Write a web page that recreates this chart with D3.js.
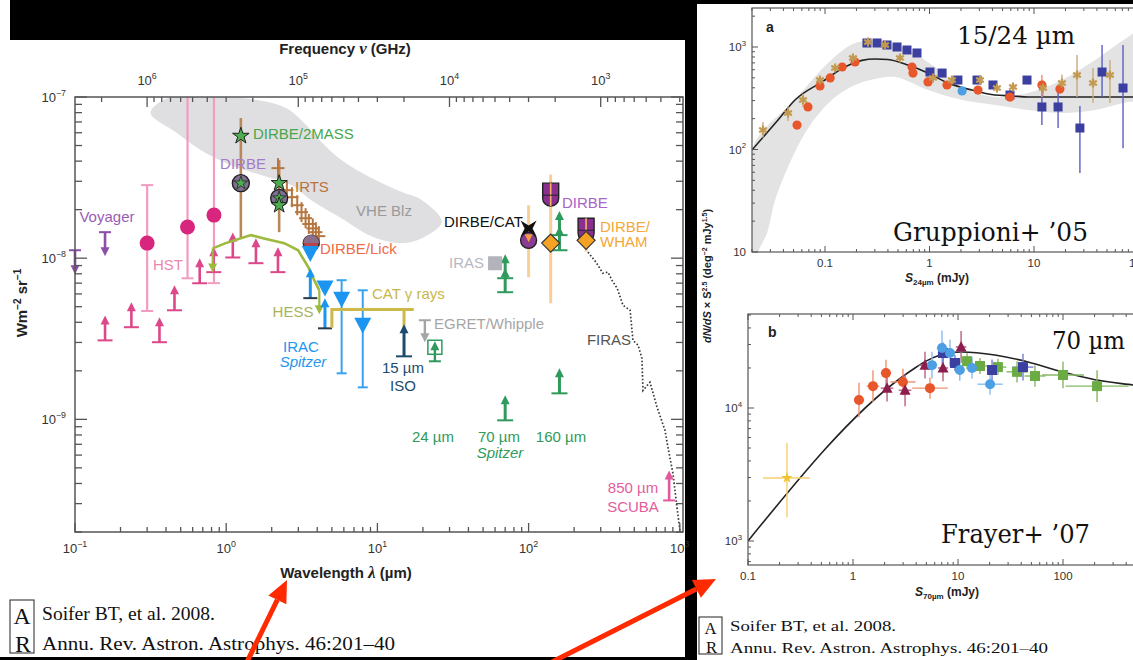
<!DOCTYPE html>
<html><head><meta charset="utf-8">
<script src="https://cdn.jsdelivr.net/npm/d3@7/dist/d3.min.js"></script>
<style>
html,body{margin:0;padding:0;background:#000;}
svg{display:block;font-family:"Liberation Sans",Arial,sans-serif;}
</style></head><body>
<svg id="chart" width="1133" height="660"></svg>
<script>
// ================= DATA: left panel (λ in µm, νIν in W m^-2 sr^-1) =================
const C_UM_GHZ = 299792.458;
const lamTickExps = [-1, 0, 1, 2, 3];
const freqTickExps = [6, 5, 4, 3];
const valTickExps = [-7, -8, -9];

const vheBandLam = [0.316,0.397,0.678,1.46,2.49,3.38,4.26,5.78,9.14,14.5,19.7,26.7,19.7,14.5,9.14,5.78,3.65,2.69,1.70,1.07,0.678,0.463];
const vheBandVal = [7.96e-8,9.72e-8,1.0e-7,9.72e-8,8.55e-8,6.70e-8,5.25e-8,4.06e-8,3.14e-8,2.57e-8,2.29e-8,1.68e-8,1.33e-8,1.24e-8,1.37e-8,1.77e-8,2.29e-8,2.84e-8,3.28e-8,3.78e-8,4.69e-8,6.06e-8];

const hstLam = [0.30, 0.555, 0.83];
const hstVal = [1.24e-8, 1.56e-8, 1.85e-8];
const hstLo  = [4.7e-9, 7.5e-9, 7.0e-9];
const hstHi  = [2.84e-8, 1.5e-7, 1.5e-7];

const optLimLam = [0.158,0.236,0.362,0.455,0.668,0.827,1.106,1.573,2.20];
const optLimVal = [3.09e-9,3.73e-9,3.01e-9,4.75e-9,6.99e-9,8.19e-9,1.01e-8,9.31e-9,8.19e-9];

const voyagerLam = [0.1, 0.158];
const voyagerVal = [1.12e-8, 1.45e-8];

const hessLam = [0.814,0.994,1.25,1.46,1.75,2.42,2.99,3.49,3.82,4.13];
const hessVal = [1.15e-8,1.24e-8,1.33e-8,1.39e-8,1.33e-8,1.24e-8,1.12e-8,8.79e-9,7.30e-9,6.32e-9];

const nirErrLam = [1.25, 2.24];
const nirErrLo  = [1.35e-8, 1.45e-8];
const nirErrHi  = [7.41e-8, 4.06e-8];
const dirbe2massLam = [1.25];
const dirbe2massVal = [5.73e-8];
const dirbeCircLam = [1.25, 2.24];
const dirbeCircVal = [2.92e-8, 2.36e-8];
const dirbeStarLam = [2.24, 2.24];
const dirbeStarVal = [2.92e-8, 2.13e-8];

const irtsLam = [2.20,2.52,2.72,2.95,3.15,3.35,3.52,3.74,3.92,4.10];
const irtsVal = [3.62e-8,2.64e-8,2.39e-8,2.13e-8,1.93e-8,1.77e-8,1.63e-8,1.53e-8,1.45e-8,1.37e-8];

const lickLam = [3.65];
const lickVal = [1.24e-8];

const iracLam = [3.6, 4.5, 5.8, 8.0];
const iracVal = [1.07e-8, 6.52e-9, 5.56e-9, 3.83e-9];
const iracLo  = [null, null, 1.93e-9, 1.58e-9];
const iracHi  = [null, null, 7.30e-9, 6.32e-9];
const iracLimLam = [3.6, 4.5];
const iracLimVal = [5.65e-9, 3.67e-9];

const catLam = [5.0, 5.0, 17.4];
const catVal = [3.7e-9, 4.8e-9, 4.8e-9];
const catLegLam = [15, 15];
const catLegVal = [4.8e-9, 3.7e-9];

const isoLam = [15];
const isoVal = [2.46e-9];
const egretLam = [20.6];
const egretVal = [4.12e-9];
const mips24Lam = [24];
const mips24Val = [2.8e-9];
const spitzerLimLam = [70, 160];
const spitzerLimVal = [9.86e-10, 1.45e-9];
const stackLimLam = [70, 70, 160, 160];
const stackLimVal = [6.15e-9, 7.51e-9, 1.12e-8, 1.39e-8];
const irasLam = [60];
const irasVal = [9.3e-9];

const firErrLam = [100, 140, 240];
const firErrLo  = [7.62e-9, 5.25e-9, 1.1e-8];
const firErrHi  = [2.13e-8, 3.3e-8, 1.75e-8];
const dirbeCatLam = [100];
const dirbeCatVal = [1.29e-8];
const catCrossVal = [1.53e-8];
const dirbeShieldLam = [140, 240];
const dirbeShieldVal = [2.46e-8, 1.49e-8];
const whamLam = [140, 240];
const whamVal = [1.24e-8, 1.29e-8];

const firasLam = [247,279,310,335,356,385,421,469,490,530,562,571,635,707,798,835,901,958,1002,1040];
const firasVal = [1.09e-8,9.44e-9,8.07e-9,8.19e-9,7.30e-9,6.52e-9,5.10e-9,4.75e-9,3.09e-9,2.88e-9,2.39e-9,1.51e-9,1.70e-9,1.19e-9,8.55e-10,6.70e-10,4.62e-10,2.84e-10,2.05e-10,1.5e-10];
const scubaLam = [850];
const scubaVal = [3.14e-10];

const annText = ['DIRBE/2MASS','DIRBE','IRTS','Voyager','HST','VHE Blz','DIRBE/Lick','DIRBE/CAT','DIRBE','DIRBE/','WHAM','IRAS','CAT γ rays','EGRET/Whipple','HESS','IRAC','Spitzer','15 µm','ISO','FIRAS','24 µm','70 µm','160 µm','Spitzer','850 µm','SCUBA'];
const annLam  = [1.503,1.291,2.85,0.1627,0.4122,11.06,4.173,27.57,166.3,296.7,296.7,50.70,9.21,23.67,2.765,3.124,3.220,14.77,14.77,340.1,23.32,63.72,163.8,64.7,490.2,490.2];
const annVal  = [5.48e-8,3.57e-8,2.57e-8,1.67e-8,8.42e-9,1.82e-8,1.059e-8,1.558e-8,2.045e-8,1.45e-8,1.17e-8,8.67e-9,5.56e-9,3.62e-9,4.30e-9,2.61e-9,2.10e-9,1.93e-9,1.49e-9,2.88e-9,7.20e-10,7.20e-10,7.20e-10,5.72e-10,3.47e-10,2.65e-10];

// ================= DATA: panel a (S24 in mJy, dN/dS×S^2.5) =================
const aTickLabels = ['0.1','1','10','100'];
const aTickVals = [0.1, 1, 10, 100];
const aBandS = [0.0205,0.0516,0.107,0.194,0.351,0.623,1.13,2.05,4.23,8.77,18.5,38.4,79.4,129,129,79.4,38.4,18.5,8.77,4.23,2.05,0.967,0.468,0.270,0.194,0.133,0.0935,0.0644,0.0443,0.0333,0.0279,0.0229,0.0215];
const aBandN = [106,304,698,1094,1119,935,638,407,325,356,476,747,1252,1641,304,291,243,227,243,272,304,380,509,476,425,340,243,145,67.5,32.1,15.3,10,7];
const aModelS = [0.020,0.0355,0.0516,0.0935,0.155,0.226,0.30,0.40,0.623,0.967,1.50,2.55,4.23,6.16,8.77,88.6,200];
const aModelN = [98.9,194,304,456,638,740,765,755,667,557,445,380,340,333,325,325,325];
const aRedS = [0.054,0.0687,0.0895,0.112,0.146,0.194,0.68,0.695,0.968,1.47,2.91,5.89,11.9,17.7];
const aRedN = [173,260,417,499,638,714,638,557,456,426,380,325,426,389];
const aRedLo = [null,null,null,null,null,null,null,null,null,null,null,null,325,null];
const aRedHi = [null,null,null,null,null,null,null,null,null,null,null,null,533,null];
const aBlueS = [0.252,0.315,0.392,0.489,0.609,0.759,1.01,1.32,1.87,2.85,4.05,5.89,8.57,11.9,17.0,27.5,44.8,71.1];
const aBlueN = [1094,1094,1046,1000,935,874,570,557,476,476,426,340,476,260,260,162,570,398];
const aBlueLo = [null,null,null,null,null,null,null,null,null,null,null,300,null,173,162,59,325,103];
const aBlueHi = [null,null,null,null,null,null,null,null,null,null,null,380,null,445,426,265,1046,1046];
const aTanS = [0.0255,0.0443,0.0616,0.0895,0.125,0.185,0.258,0.375,0.522,1.08,1.64,3.04,4.42,6.30,12.2,18.5,25.8,36.7,53.3];
const aTanN = [155,227,304,476,624,782,1119,1046,782,499,476,476,398,407,398,445,533,445,533];
const aTanLo = [130,190,260,null,null,null,null,null,null,null,null,null,null,null,330,360,325,284,284];
const aTanHi = [185,265,350,null,null,null,null,null,null,null,null,null,null,null,470,540,835,624,747];
const aCyanS = [2.05];
const aCyanN = [373];

// ================= DATA: panel b (S70 in mJy, dN/dS×S^2.5) =================
const bTickLabels = ['0.1','1','10','100'];
const bTickVals = [0.1, 1, 10, 100];
const bModelS = [0.1,2.93,3.89,5.18,8.03,10.9,22.5,46.4,97.7,202,464,1000];
const bModelN = [1000,17100,20000,22900,25900,26400,25000,22200,18700,16300,14900,13800];
const bYelS = [0.235]; const bYelN = [2980];
const bYelSLo = [0.139]; const bYelSHi = [0.389]; const bYelNLo = [1510]; const bYelNHi = [5450];
const bRedS = [1.14,1.55,2.06,2.99,5.41];
const bRedN = [11500,14600,18300,15700,14100];
const bRedEN = [0.13,0.12,0.10,0.10,0.08];
const bRedES = [0.05,0.06,0.05,0.12,0.17];
const bTriS = [2.11,3.13,4.85,7.20,10.7];
const bTriN = [14100,13600,21000,20000,28800];
const bTriEN = [0.10,0.12,0.10,0.10,0.12];
const bTriES = [0.06,0.06,0.06,0.05,0.05];
const bCircS = [5.65,7.04,8.39,10.4,13.6,20.2];
const bCircN = [21000,28300,25900,19300,20000,15100];
const bCircEN = [0.10,0.13,0.10,0.08,0.08,0.08];
const bCircES = [0.05,0.05,0.05,0.05,0.05,0.12];
const bSqS = [7.20,9.36,21.1,41.6];
const bSqN = [25900,21800,19300,20300];
const bSqEN = [0.08,0.06,0.08,0.10];
const bSqES = [0.05,0.05,0.05,0.10];
const bGrnS = [12.2,16.2,24.0,36.5,54.1,100,211];
const bGrnN = [22500,20700,20300,18700,17400,17700,14600];
const bGrnEN = [0.06,0.06,0.06,0.08,0.08,0.10,0.12];
const bGrnES = [0.05,0.08,0.08,0.10,0.10,0.20,0.30];

// ================= RENDER =================
const svg = d3.select('#chart');
const defs = svg.append('defs');
const sup = e => (e < 0 ? '\u2212' + (-e) : String(e));
function pow10(g, px, py, e, anchor, size, color) {
  const t = g.append('text').attr('x', px).attr('y', py).attr('text-anchor', anchor)
    .attr('font-size', size).attr('fill', color);
  t.append('tspan').text('10');
  t.append('tspan').attr('dy', -size * 0.45).attr('font-size', size * 0.68).text(sup(e));
  return t;
}
function line(g, x1, y1, x2, y2, c, w) {
  return g.append('line').attr('x1', x1).attr('y1', y1).attr('x2', x2).attr('y2', y2)
    .attr('stroke', c).attr('stroke-width', w);
}
function upArrow(g, px, pyb, len, c, w, capW, capC) {
  line(g, px, pyb, px, pyb - len + 7, c, w);
  g.append('path').attr('d', `M${px - 4.5},${pyb - len + 9}L${px},${pyb - len}L${px + 4.5},${pyb - len + 9}Z`).attr('fill', c);
  if (capW) line(g, px - capW / 2, pyb, px + capW / 2, pyb, capC || c, 2);
}
function downArrow(g, px, pyc, len, c, w, capW) {
  line(g, px, pyc, px, pyc + len - 7, c, w);
  g.append('path').attr('d', `M${px - 4.5},${pyc + len - 9}L${px},${pyc + len}L${px + 4.5},${pyc + len - 9}Z`).attr('fill', c);
  if (capW) line(g, px - capW / 2, pyc, px + capW / 2, pyc, c, 2);
}
function logTicks(a, b) {
  const out = [];
  for (let e = Math.floor(Math.log10(Math.min(a, b))); e <= Math.ceil(Math.log10(Math.max(a, b))); e++)
    for (let k = 1; k < 10; k++) { const v = k * Math.pow(10, e); if (v >= Math.min(a, b) * 0.999 && v <= Math.max(a, b) * 1.001) out.push(v); }
  return out;
}
const isMajor = v => Math.abs(Math.log10(v) - Math.round(Math.log10(v))) < 1e-6;

// backgrounds
svg.append('rect').attr('width', 1133).attr('height', 660).attr('fill', '#000');
svg.append('rect').attr('x', 0).attr('y', 0).attr('width', 685).attr('height', 657).attr('fill', '#fff');
svg.append('rect').attr('x', 10).attr('y', 0).attr('width', 687).attr('height', 40).attr('fill', '#000');
svg.append('rect').attr('x', 697).attr('y', 4).attr('width', 436).attr('height', 656).attr('fill', '#fff');

// ---------- LEFT PANEL ----------
const X0 = 75, X1 = 683, Y0 = 97, Y1 = 532;
const x = d3.scaleLog().domain([0.1, 1050]).range([X0, X1]);
const y = d3.scaleLog().domain([2e-10, 1e-7]).range([Y1, Y0]);
const xf = d3.scaleLog().domain([C_UM_GHZ / 0.1, C_UM_GHZ / 1050]).range([X0, X1]);
defs.append('clipPath').attr('id', 'clipL').append('rect').attr('x', X0).attr('y', Y0).attr('width', X1 - X0).attr('height', Y1 - Y0);
const L = svg.append('g');
const g = L.append('g').attr('clip-path', 'url(#clipL)');

// VHE blazar band
g.append('path').datum(d3.zip(vheBandLam, vheBandVal))
  .attr('d', d3.line().x(d => x(d[0])).y(d => y(d[1])).curve(d3.curveCatmullRomClosed.alpha(0.5)))
  .attr('fill', '#dfdfe1');

// FIRAS
g.append('path').datum(d3.zip(firasLam, firasVal))
  .attr('d', d3.line().x(d => x(d[0])).y(d => y(d[1])))
  .attr('fill', 'none').attr('stroke', '#3a3a3a').attr('stroke-width', 1.7).attr('stroke-dasharray', '1.6,2');

// FIR DIRBE error bars (peach)
firErrLam.forEach((l, i) => line(g, x(l), y(firErrLo[i]), x(l), y(firErrHi[i]), '#f9cf98', 3));

// HST error bars
hstLam.forEach((l, i) => {
  line(g, x(l), y(hstLo[i]), x(l), y(hstHi[i]), '#f29cc1', 2.2);
  line(g, x(l) - 6, y(hstLo[i]), x(l) + 6, y(hstLo[i]), '#f29cc1', 2);
  line(g, x(l) - 6, y(hstHi[i]), x(l) + 6, y(hstHi[i]), '#f29cc1', 2);
});
// optical lower limits
optLimLam.forEach((l, i) => upArrow(g, x(l), y(optLimVal[i]), 25, '#dc4889', 2.6, 15));

// HESS model curve
g.append('path').datum(d3.zip(hessLam, hessVal))
  .attr('d', d3.line().x(d => x(d[0])).y(d => y(d[1])))
  .attr('fill', 'none').attr('stroke', '#9dba3e').attr('stroke-width', 2.6);
downArrow(g, x(hessLam[0]), y(hessVal[0]), 24, '#9dba3e', 2.2, 0);
downArrow(g, x(hessLam[hessLam.length - 1]), y(hessVal[hessVal.length - 1]), 24, '#9dba3e', 2.2, 0);

// HST circles
hstLam.forEach((l, i) => g.append('circle').attr('cx', x(l)).attr('cy', y(hstVal[i])).attr('r', 7.5).attr('fill', '#d8267f'));

// NIR error bars (brown)
nirErrLam.forEach((l, i) => line(g, x(l), y(nirErrLo[i]), x(l), y(nirErrHi[i]), '#b9875a', 2.6));

// IRTS crosses
irtsLam.forEach((l, i) => {
  const cx = x(l), cy = y(irtsVal[i]);
  line(g, cx - 6.5, cy, cx + 6.5, cy, '#b5763f', 2);
  line(g, cx, cy - 10, cx, cy + 10, '#b5763f', 2);
});

const starPath = s => d3.symbol().type(d3.symbolStar).size(s)();
// DIRBE circles with stars
dirbeCircLam.forEach((l, i) => {
  g.append('circle').attr('cx', x(l)).attr('cy', y(dirbeCircVal[i])).attr('r', 8.5).attr('fill', '#7f6f90').attr('stroke', '#222').attr('stroke-width', 1.4);
  g.append('path').attr('d', starPath(55)).attr('transform', `translate(${x(l)},${y(dirbeCircVal[i])})`).attr('fill', '#4cae50').attr('stroke', '#222').attr('stroke-width', 0.8);
});
dirbeStarLam.forEach((l, i) => g.append('path').attr('d', starPath(80)).attr('transform', `translate(${x(l)},${y(dirbeStarVal[i])})`).attr('fill', '#4cae50').attr('stroke', '#222').attr('stroke-width', 1));
dirbe2massLam.forEach((l, i) => g.append('path').attr('d', starPath(85)).attr('transform', `translate(${x(l)},${y(dirbe2massVal[i])})`).attr('fill', '#4cae50').attr('stroke', '#222').attr('stroke-width', 1));

// DIRBE/Lick
lickLam.forEach((l, i) => {
  g.append('circle').attr('cx', x(l)).attr('cy', y(lickVal[i])).attr('r', 8).attr('fill', '#b8444a').attr('stroke', '#333').attr('stroke-width', 1.4);
  g.append('path').attr('d', `M${x(l) - 8},${y(lickVal[i])}A8,8 0 0 1 ${x(l) + 8},${y(lickVal[i])}Z`).attr('fill', '#8c6e8a');
});

// IRAC
iracLimLam.forEach((l, i) => upArrow(g, x(l), y(iracLimVal[i]), 30, '#1b95ef', 3, 14, '#2a3a4a'));
iracLam.forEach((l, i) => {
  if (iracLo[i] !== null) {
    line(g, x(l), y(iracLo[i]), x(l), y(iracHi[i]), '#38a2f0', 2);
    line(g, x(l) - 5, y(iracLo[i]), x(l) + 5, y(iracLo[i]), '#38a2f0', 2);
    line(g, x(l) - 5, y(iracHi[i]), x(l) + 5, y(iracHi[i]), '#38a2f0', 2);
  }
  g.append('path').attr('d', 'M-8.5,-7.5L8.5,-7.5L0,8.5Z').attr('transform', `translate(${x(l)},${y(iracVal[i])})`).attr('fill', '#1b95ef');
});

// CAT gamma rays
g.append('path').datum(d3.zip(catLam, catVal)).attr('d', d3.line().x(d => x(d[0])).y(d => y(d[1])))
  .attr('fill', 'none').attr('stroke', '#cdb94a').attr('stroke-width', 3);
g.append('path').datum(d3.zip(catLegLam, catLegVal)).attr('d', d3.line().x(d => x(d[0])).y(d => y(d[1])))
  .attr('fill', 'none').attr('stroke', '#cdb94a').attr('stroke-width', 3);

// ISO 15 µm
isoLam.forEach((l, i) => upArrow(g, x(l), y(isoVal[i]), 32, '#1c4c6b', 3, 16));
// EGRET/Whipple
egretLam.forEach((l, i) => downArrow(g, x(l), y(egretVal[i]), 22, '#a4a4a4', 2.4, 12));
// 24 µm box
mips24Lam.forEach((l, i) => {
  const cx = x(l), cy = y(mips24Val[i]);
  g.append('rect').attr('x', cx - 7).attr('y', cy - 7).attr('width', 14).attr('height', 14).attr('fill', 'none').attr('stroke', '#2f9a5c').attr('stroke-width', 1.5);
  upArrow(g, cx, cy + 14, 20, '#2f9a5c', 2.4, 12);
});
// Spitzer lower limits
spitzerLimLam.forEach((l, i) => upArrow(g, x(l), y(spitzerLimVal[i]), 25, '#2f9a5c', 3, 16));
stackLimLam.forEach((l, i) => upArrow(g, x(l), y(stackLimVal[i]), 24, '#2f9a5c', 3, 16));
// IRAS
irasLam.forEach((l, i) => g.append('rect').attr('x', x(l) - 7).attr('y', y(irasVal[i]) - 7).attr('width', 14).attr('height', 14).attr('fill', '#b3b3bb'));

// DIRBE/CAT circle + cross
dirbeCatLam.forEach((l, i) => {
  const cx = x(l);
  g.append('circle').attr('cx', cx).attr('cy', y(dirbeCatVal[i])).attr('r', 8).attr('fill', '#8a3b93').attr('stroke', '#222').attr('stroke-width', 1.4);
  g.append('path').attr('d', 'M-4,-6L4,-6L0,2Z').attr('transform', `translate(${cx},${y(dirbeCatVal[i])})`).attr('fill', '#f0a040');
  g.append('path').attr('d', 'M-8,-8L0,-3L8,-8L4,0L8,8L0,3L-8,8L-4,0Z').attr('transform', `translate(${cx},${y(catCrossVal[i])})`).attr('fill', '#111');
});
// DIRBE shields
dirbeShieldLam.forEach((l, i) => {
  const cx = x(l), cy = y(dirbeShieldVal[i]);
  g.append('path').attr('d', `M${cx - 8},${cy - 12}L${cx + 8},${cy - 12}L${cx + 8},${cy + 3}A8,8 0 0 1 ${cx - 8},${cy + 3}Z`)
    .attr('fill', '#8b2f8f').attr('stroke', '#222').attr('stroke-width', 1.4);
  line(g, cx, cy - 12, cx, cy + 11, '#f3b46a', 1.6);
  line(g, cx - 8, cy, cx + 8, cy, '#222', 1);
});
// orange diamonds
whamLam.forEach((l, i) => g.append('path').attr('d', 'M0,-9L9,0L0,9L-9,0Z').attr('transform', `translate(${x(l)},${y(whamVal[i])})`)
  .attr('fill', '#f5a225').attr('stroke', '#333').attr('stroke-width', 1.2));
// SCUBA
scubaLam.forEach((l, i) => upArrow(g, x(l), y(scubaVal[i]), 30, '#e2589c', 2.6, 12));

// Voyager (drawn unclipped)
voyagerLam.forEach((l, i) => downArrow(L, x(l), y(voyagerVal[i]), 24, '#8d4ea9', 2.6, 12));

// annotations
const annColor = ['#47a64b','#a57bc9','#b7743d','#9a5cb4','#ec86b0','#9a9a9a','#f06a48','#111','#a864c8','#f5a83a','#f5a83a','#b8b8c2','#c8b74c','#a6a6a6','#a8b45c','#1e96ee','#1e96ee','#1d4c6c','#1d4c6c','#555','#2f9a5c','#2f9a5c','#2f9a5c','#2f9a5c','#e25d9d','#e25d9d'];
const annAnchor = ['start','middle','start','middle','middle','middle','start','start','start','start','start','end','start','start','middle','middle','middle','middle','middle','middle','middle','middle','middle','middle','middle','middle'];
const annItalic = [16, 23];
annText.forEach((t, i) => L.append('text').attr('x', x(annLam[i])).attr('y', y(annVal[i]))
  .attr('text-anchor', annAnchor[i]).attr('font-size', 15).attr('fill', annColor[i])
  .attr('font-style', annItalic.includes(i) ? 'italic' : 'normal').text(t));

// frame & ticks
L.append('rect').attr('x', X0).attr('y', Y0).attr('width', X1 - X0).attr('height', Y1 - Y0).attr('fill', 'none').attr('stroke', '#555').attr('stroke-width', 1.5);
x.ticks().forEach(v => { const m = isMajor(v); line(L, x(v), Y1, x(v), Y1 - (m ? 9 : 5), '#555', 1.3); });
xf.ticks().forEach(v => { const m = isMajor(v); line(L, xf(v), Y0, xf(v), Y0 + (m ? 10 : 5), '#555', 1.3); });
y.ticks().forEach(v => { const m = isMajor(v); line(L, X0, y(v), X0 + (m ? 12 : 7), y(v), '#555', 1.3); line(L, X1, y(v), X1 - (m ? 12 : 7), y(v), '#555', 1.3); });
lamTickExps.forEach(e => pow10(L, x(Math.pow(10, e)), 553, e, 'middle', 13, '#333'));
freqTickExps.forEach(e => pow10(L, xf(Math.pow(10, e)), 85, e, 'middle', 13, '#333'));
valTickExps.forEach(e => pow10(L, 66, y(Math.pow(10, e)) + 5, e, 'end', 13, '#333'));

// axis titles
const ft = L.append('text').attr('x', 345).attr('y', 54).attr('text-anchor', 'middle').attr('font-size', 15).attr('font-weight', 'bold').attr('fill', '#222');
ft.append('tspan').text('Frequency ');
ft.append('tspan').attr('font-family', 'Liberation Serif').attr('font-style', 'italic').attr('font-size', 17).text('ν');
ft.append('tspan').text(' (GHz)');
const wt = L.append('text').attr('x', 346).attr('y', 578).attr('text-anchor', 'middle').attr('font-size', 15).attr('font-weight', 'bold').attr('fill', '#222');
wt.append('tspan').text('Wavelength ');
wt.append('tspan').attr('font-family', 'Liberation Serif').attr('font-style', 'italic').attr('font-size', 17).text('λ');
wt.append('tspan').text(' (µm)');
const yt = L.append('text').attr('transform', 'translate(27,303) rotate(-90)').attr('text-anchor', 'middle').attr('font-size', 15).attr('font-weight', 'bold').attr('fill', '#222');
yt.append('tspan').text('Wm');
yt.append('tspan').attr('dy', -6).attr('font-size', 10).text('\u22122');
yt.append('tspan').attr('dy', 6).text(' sr');
yt.append('tspan').attr('dy', -6).attr('font-size', 10).text('\u22121');

// ---------- RIGHT PANELS ----------
function framePanel(G, xs, ys, px0, px1, py0, py1) {
  G.append('rect').attr('x', px0).attr('y', py0).attr('width', px1 - px0 + 20).attr('height', py1 - py0).attr('fill', 'none').attr('stroke', '#555').attr('stroke-width', 1.2);
  logTicks(xs.invert(px0), xs.invert(1133)).forEach(v => {
    const m = isMajor(v), h = m ? 6 : 3;
    line(G, xs(v), py1, xs(v), py1 - h, '#555', 1);
    line(G, xs(v), py0, xs(v), py0 + h, '#555', 1);
  });
  logTicks(ys.invert(py1), ys.invert(py0)).forEach(v => {
    const m = isMajor(v), h = m ? 6 : 3;
    line(G, px0, ys(v), px0 + h, ys(v), '#555', 1);
  });
}
function errBars(G, xs, ys, sx, ny, col, w, nLo, nHi, sLo, sHi) {
  if (nLo != null) line(G, xs(sx), ys(nLo), xs(sx), ys(nHi), col, w);
  if (sLo != null) line(G, xs(sLo), ys(ny), xs(sHi), ys(ny), col, w);
}

// panel a
const A = svg.append('g');
const xa = d3.scaleLog().domain([0.1, 10]).range([825, 1034]);
const ya = d3.scaleLog().domain([10, 1000]).range([252, 47]);
defs.append('clipPath').attr('id', 'clipA').append('rect').attr('x', 752).attr('y', 8).attr('width', 381).attr('height', 244);
const ga = A.append('g').attr('clip-path', 'url(#clipA)');
ga.append('path').datum(d3.zip(aBandS, aBandN)).attr('d', d3.line().x(d => xa(d[0])).y(d => ya(d[1])).curve(d3.curveCatmullRomClosed.alpha(0.5))).attr('fill', '#e3e3e3');
ga.append('path').datum(d3.zip(aModelS, aModelN)).attr('d', d3.line().x(d => xa(d[0])).y(d => ya(d[1])).curve(d3.curveMonotoneX)).attr('fill', 'none').attr('stroke', '#222').attr('stroke-width', 1.6);
aTanS.forEach((s, i) => errBars(ga, xa, ya, s, aTanN[i], '#c9aa7c', 1.4, aTanLo[i], aTanHi[i]));
aBlueS.forEach((s, i) => errBars(ga, xa, ya, s, aBlueN[i], '#5a5fc0', 1.4, aBlueLo[i], aBlueHi[i]));
aRedS.forEach((s, i) => errBars(ga, xa, ya, s, aRedN[i], '#ee8a6a', 1.4, aRedLo[i], aRedHi[i]));
aBlueS.forEach((s, i) => ga.append('rect').attr('x', xa(s) - 4.5).attr('y', ya(aBlueN[i]) - 4.5).attr('width', 9).attr('height', 9).attr('fill', '#3b3f9f'));
aRedS.forEach((s, i) => ga.append('circle').attr('cx', xa(s)).attr('cy', ya(aRedN[i])).attr('r', 4.6).attr('fill', '#e8562c'));
aCyanS.forEach((s, i) => ga.append('circle').attr('cx', xa(s)).attr('cy', ya(aCyanN[i])).attr('r', 4.6).attr('fill', '#4c9fe3'));
aTanS.forEach((s, i) => ga.append('path').attr('d', d3.symbol().type(d3.symbolAsterisk).size(55)()).attr('transform', `translate(${xa(s)},${ya(aTanN[i])})`).attr('fill', 'none').attr('stroke', '#c29a52').attr('stroke-width', 2.2));
framePanel(A, xa, ya, 752, 1133, 8, 252);
aTickVals.forEach((v, i) => A.append('text').attr('x', xa(v)).attr('y', 267).attr('text-anchor', 'middle').attr('font-size', 11.5).attr('fill', '#333').text(aTickLabels[i]));
pow10(A, 746, ya(1000) + 4, 3, 'end', 11.5, '#333');
pow10(A, 746, ya(100) + 4, 2, 'end', 11.5, '#333');
A.append('text').attr('x', 746).attr('y', ya(10) + 4).attr('text-anchor', 'end').attr('font-size', 11.5).attr('fill', '#333').text('10');
A.append('text').attr('x', 766).attr('y', 32).attr('font-size', 14).attr('font-weight', 'bold').attr('fill', '#222').text('a');
const ax = A.append('text').attr('x', 937).attr('y', 282).attr('text-anchor', 'middle').attr('font-size', 12).attr('font-weight', 'bold').attr('fill', '#222');
ax.append('tspan').attr('font-style', 'italic').text('S');
ax.append('tspan').attr('dy', 3).attr('font-size', 8).text('24µm');
ax.append('tspan').attr('dy', -3).text(' (mJy)');
A.append('text').attr('x', 957).attr('y', 44).attr('font-family', 'DejaVu Serif').attr('font-size', 24).attr('fill', '#111').attr('textLength', 118).attr('lengthAdjust', 'spacingAndGlyphs').text('15/24 µm');
A.append('text').attr('x', 893).attr('y', 241).attr('font-family', 'DejaVu Serif').attr('font-size', 26).attr('fill', '#111').attr('textLength', 195).attr('lengthAdjust', 'spacingAndGlyphs').text('Gruppioni+ \u201905');

// panel b
const B = svg.append('g');
const xb = d3.scaleLog().domain([0.1, 100]).range([748, 1063]);
const yb = d3.scaleLog().domain([1000, 10000]).range([541, 408]);
defs.append('clipPath').attr('id', 'clipB').append('rect').attr('x', 748).attr('y', 314).attr('width', 385).attr('height', 251);
const gb = B.append('g').attr('clip-path', 'url(#clipB)');
gb.append('path').datum(d3.zip(bModelS, bModelN)).attr('d', d3.line().x(d => xb(d[0])).y(d => yb(d[1])).curve(d3.curveMonotoneX)).attr('fill', 'none').attr('stroke', '#222').attr('stroke-width', 1.6);
const eb = (s, n, en, es, col) => errBars(gb, xb, yb, s, n, col, 1.4, n / Math.pow(10, en), n * Math.pow(10, en), s / Math.pow(10, es), s * Math.pow(10, es));
bYelS.forEach((s, i) => errBars(gb, xb, yb, s, bYelN[i], '#f6d070', 1.4, bYelNLo[i], bYelNHi[i], bYelSLo[i], bYelSHi[i]));
bRedS.forEach((s, i) => eb(s, bRedN[i], bRedEN[i], bRedES[i], '#f09070'));
bTriS.forEach((s, i) => eb(s, bTriN[i], bTriEN[i], bTriES[i], '#b86080'));
bCircS.forEach((s, i) => eb(s, bCircN[i], bCircEN[i], bCircES[i], '#8abcf0'));
bSqS.forEach((s, i) => eb(s, bSqN[i], bSqEN[i], bSqES[i], '#7a7ed0'));
bGrnS.forEach((s, i) => eb(s, bGrnN[i], bGrnEN[i], bGrnES[i], '#86b866'));
bYelS.forEach((s, i) => gb.append('path').attr('d', d3.symbol().type(d3.symbolStar).size(40)()).attr('transform', `translate(${xb(s)},${yb(bYelN[i])})`).attr('fill', '#f2c230'));
bRedS.forEach((s, i) => gb.append('circle').attr('cx', xb(s)).attr('cy', yb(bRedN[i])).attr('r', 5).attr('fill', '#e8562c'));
bTriS.forEach((s, i) => gb.append('path').attr('d', 'M-5.5,4.5L5.5,4.5L0,-6Z').attr('transform', `translate(${xb(s)},${yb(bTriN[i])})`).attr('fill', '#8c1e4e'));
bGrnS.forEach((s, i) => gb.append('rect').attr('x', xb(s) - 5).attr('y', yb(bGrnN[i]) - 5).attr('width', 10).attr('height', 10).attr('fill', '#6aab44'));
bSqS.forEach((s, i) => gb.append('rect').attr('x', xb(s) - 5).attr('y', yb(bSqN[i]) - 5).attr('width', 10).attr('height', 10).attr('fill', '#3b3f9f'));
bCircS.forEach((s, i) => gb.append('circle').attr('cx', xb(s)).attr('cy', yb(bCircN[i])).attr('r', 5).attr('fill', '#4c9fe3'));
framePanel(B, xb, yb, 748, 1133, 314, 565);
bTickVals.forEach((v, i) => B.append('text').attr('x', xb(v)).attr('y', 580).attr('text-anchor', 'middle').attr('font-size', 11.5).attr('fill', '#333').text(bTickLabels[i]));
pow10(B, 742, yb(10000) + 4, 4, 'end', 11.5, '#333');
pow10(B, 742, yb(1000) + 4, 3, 'end', 11.5, '#333');
B.append('text').attr('x', 768).attr('y', 337).attr('font-size', 14).attr('font-weight', 'bold').attr('fill', '#222').text('b');
const bx = B.append('text').attr('x', 947).attr('y', 596).attr('text-anchor', 'middle').attr('font-size', 12).attr('font-weight', 'bold').attr('fill', '#222');
bx.append('tspan').attr('font-style', 'italic').text('S');
bx.append('tspan').attr('dy', 3).attr('font-size', 8).text('70µm');
bx.append('tspan').attr('dy', -3).text(' (mJy)');
B.append('text').attr('x', 1052).attr('y', 349).attr('font-family', 'DejaVu Serif').attr('font-size', 25).attr('fill', '#111').attr('textLength', 73).attr('lengthAdjust', 'spacingAndGlyphs').text('70 µm');
B.append('text').attr('x', 941).attr('y', 543).attr('font-family', 'DejaVu Serif').attr('font-size', 26).attr('fill', '#111').attr('textLength', 149).attr('lengthAdjust', 'spacingAndGlyphs').text('Frayer+ \u201907');

// shared y title
const ry = svg.append('text').attr('transform', 'translate(711,276) rotate(-90)').attr('text-anchor', 'middle').attr('font-size', 11).attr('font-weight', 'bold').attr('fill', '#222');
ry.append('tspan').attr('font-style', 'italic').text('dN/dS');
ry.append('tspan').text(' × S');
ry.append('tspan').attr('dy', -4).attr('font-size', 7).text('2.5');
ry.append('tspan').attr('dy', 4).text(' (deg');
ry.append('tspan').attr('dy', -4).attr('font-size', 7).text('\u22122');
ry.append('tspan').attr('dy', 4).text(' mJy');
ry.append('tspan').attr('dy', -4).attr('font-size', 7).text('1.5');
ry.append('tspan').attr('dy', 4).text(')');

// ---------- captions ----------
function caption(px, py, logoW, logoH, fs, w1, w2, gap) {
  const G = svg.append('g');
  const lf = logoH * 0.45;
  G.append('rect').attr('x', px).attr('y', py).attr('width', logoW).attr('height', logoH).attr('fill', 'none').attr('stroke', '#222').attr('stroke-width', 1);
  G.append('text').attr('x', px + logoW / 2).attr('y', py + logoH * 0.45).attr('text-anchor', 'middle').attr('font-family', 'Liberation Serif').attr('font-size', lf).attr('fill', '#111').text('A');
  G.append('text').attr('x', px + logoW / 2 + 1).attr('y', py + logoH - 1).attr('text-anchor', 'middle').attr('font-family', 'Liberation Serif').attr('font-size', lf).attr('fill', '#111').text('R');
  G.append('text').attr('x', px + logoW + 8).attr('y', py + logoH * 0.38).attr('font-family', 'Liberation Serif').attr('font-size', fs).attr('fill', '#111').attr('textLength', w1).attr('lengthAdjust', 'spacingAndGlyphs').text('Soifer BT, et al. 2008.');
  G.append('text').attr('x', px + logoW + 8).attr('y', py + logoH * 0.38 + gap).attr('font-family', 'Liberation Serif').attr('font-size', fs).attr('fill', '#111').attr('textLength', w2).attr('lengthAdjust', 'spacingAndGlyphs').text('Annu. Rev. Astron. Astrophys. 46:201\u201340');
}
caption(10, 600, 24, 53, 18, 173, 353, 30);
caption(699, 617, 23, 37, 15, 166, 318, 22);

// ---------- red arrows ----------
function redArrow(x1, y1, x2, y2) {
  const a = Math.atan2(y2 - y1, x2 - x1), hl = 22, hw = 10;
  const bx_ = x2 - hl * Math.cos(a), by_ = y2 - hl * Math.sin(a);
  line(svg, x1, y1, bx_, by_, '#ff2a00', 5);
  svg.append('path').attr('d', `M${x2},${y2}L${bx_ + hw * Math.sin(a)},${by_ - hw * Math.cos(a)}L${bx_ - hw * Math.sin(a)},${by_ + hw * Math.cos(a)}Z`).attr('fill', '#ff2a00');
}
redArrow(246, 664, 287, 580);
redArrow(548, 664, 716, 579);
</script></body></html>
